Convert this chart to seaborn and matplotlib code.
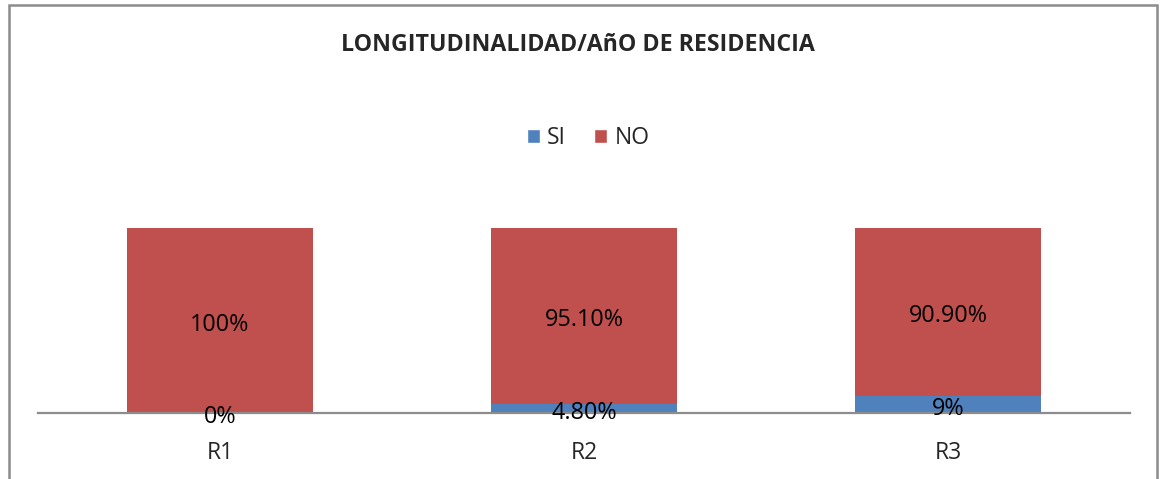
import matplotlib
matplotlib.use("Agg")
import matplotlib.pyplot as plt
import seaborn as sns
import pandas as pd
from matplotlib.patches import Rectangle, Patch

# data
categories = ["R1", "R2", "R3"]
si_values = [0.0, 4.8, 9.0]
no_values = [100.0, 95.1, 90.9]
si_labels = ["0%", "4.80%", "9%"]
no_labels = ["100%", "95.10%", "90.90%"]

BLUE = "#4F81BD"
RED = "#C0504D"
GRID = "#8C8C8C"

sns.set_theme(style="white")
plt.rcParams["font.family"] = ["Open Sans", "DejaVu Sans"]

df = pd.DataFrame({"cat": categories, "si": si_values, "no": no_values})
df["total"] = df["si"] + df["no"]

W, H = 1167, 479
fig = plt.figure(figsize=(W / 100, H / 100), dpi=100)
ax = fig.add_axes([38 / W, 1 - 413 / H, (1130 - 38) / W, (413 - 191) / H])

# stacked bars: full height in red, SI part in blue on top of it
sns.barplot(data=df, x="cat", y="total", color=RED, width=0.51,
            saturation=1, ax=ax, edgecolor="none")
sns.barplot(data=df, x="cat", y="si", color=BLUE, width=0.51,
            saturation=1, ax=ax, edgecolor="none")

for i in range(len(categories)):
    ax.annotate(si_labels[i], (i, si_values[i] / 2), xytext=(0, -3),
                textcoords="offset points", ha="center", va="center",
                fontsize=16.8, color="black")
    ax.annotate(no_labels[i], (i, si_values[i] + no_values[i] / 2),
                xytext=(0, -3), textcoords="offset points", ha="center",
                va="center", fontsize=16.8, color="black")

ax.set_xlim(-0.5, 2.5)
ax.set_ylim(0, 120)
ax.set_xlabel("")
ax.set_ylabel("")
ax.set_yticks([])
ax.tick_params(axis="x", length=0, labelsize=16.5, pad=20)
for s in ["top", "right", "left"]:
    ax.spines[s].set_visible(False)
ax.spines["bottom"].set_color(GRID)
ax.spines["bottom"].set_linewidth(1.6)
ax.set_facecolor("none")

fig.text(0.5 * (343 + 813) / W, 1 - 45 / H, "LONGITUDINALIDAD/AñO DE RESIDENCIA",
         ha="center", va="center", fontsize=16.7, fontweight="bold")

handles = [Patch(facecolor=BLUE, label="SI"), Patch(facecolor=RED, label="NO")]
fig.legend(handles=handles, loc="center", bbox_to_anchor=(588 / W, 1 - 138 / H),
           ncol=2, frameon=False, fontsize=16.5, handlelength=0.6, handleheight=0.6,
           handletextpad=0.3, columnspacing=1.2)

# outer chart border
fig.patches.append(Rectangle((8.5 / W, -0.05), (1156.5 - 8.5) / W, 1.05 - 5.5 / H,
                             transform=fig.transFigure, fill=False,
                             edgecolor=GRID, linewidth=1.8))

fig.savefig("out.png", dpi=100)
